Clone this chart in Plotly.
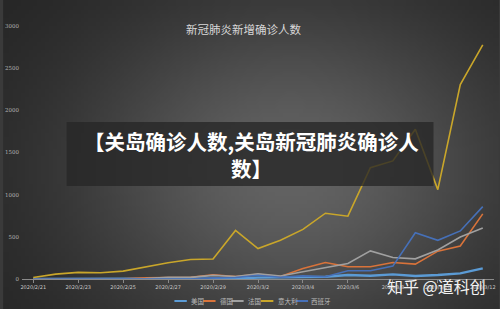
import base64, struct, zlib, math
import plotly.graph_objects as go

dates = ["2020/2/21", "2020/2/22", "2020/2/23", "2020/2/24", "2020/2/25", "2020/2/26", "2020/2/27",
         "2020/2/28", "2020/2/29", "2020/3/1", "2020/3/2", "2020/3/3", "2020/3/4", "2020/3/5",
         "2020/3/6", "2020/3/7", "2020/3/8", "2020/3/9", "2020/3/10", "2020/3/11", "2020/3/12"]
us = [0, 0, 0, 0, 1, 2, 3, 5, 8, 7, 16, 22, 27, 27, 47, 39, 55, 35, 47, 67, 126]
germany = [0, 0, 0, 0, 2, 14, 20, 20, 50, 30, 55, 30, 125, 196, 145, 145, 196, 176, 330, 392, 772]
france = [0, 0, 0, 0, 2, 4, 20, 19, 43, 30, 61, 35, 86, 137, 184, 333, 255, 239, 345, 498, 604]
italy = [17, 58, 78, 75, 93, 145, 192, 232, 238, 576, 361, 459, 588, 780, 745, 1320, 1400, 1776, 1060, 2305, 2775]
spain = [0, 0, 0, 0, 4, 3, 4, 0, 13, 17, 45, 20, 37, 27, 98, 98, 153, 549, 459, 570, 858]
tick_dates = dates[::2]
y_ticks = [0, 500, 1000, 1500, 2000, 2500, 3000]

series = [("美国", us, "#5b9bd5", 2.4), ("德国", germany, "#d9733a", 1.6), ("法国", france, "#a0a0a0", 1.6),
          ("意大利", italy, "#c9a62a", 1.6), ("西班牙", spain, "#4670b8", 1.6)]

W, H = 500, 309
ML, MR, MT, MB = 19, 5, 26, 30
PW, PH = W - ML - MR, H - MT - MB

def px(x):
    return (x - ML) / PW

def py(y):
    return (H - MB - y) / PH

# background radial gradient PNG
def make_png(w, h):
    rows = b""
    for j in range(h):
        row = b"\x00"
        for i in range(w):
            X = (i + 0.5) / w * W
            Y = (j + 0.5) / h * H
            dx = (X - 290) / 260
            dy = (Y - 170) / 200
            d2 = dx * dx + dy * dy
            v = int(35 + 64 * math.exp(-d2 * 1.4))
            row += bytes([v, v, v])
        rows += row
    def chunk(t, data):
        c = struct.pack(">I", len(data)) + t + data
        return c + struct.pack(">I", zlib.crc32(t + data) & 0xffffffff)
    png = b"\x89PNG\r\n\x1a\n" + chunk(b"IHDR", struct.pack(">IIBBBBB", w, h, 8, 2, 0, 0, 0))
    png += chunk(b"IDAT", zlib.compress(rows, 9)) + chunk(b"IEND", b"")
    return "data:image/png;base64," + base64.b64encode(png).decode()

fig = go.Figure()
for name, vals, color, width in series:
    fig.add_trace(go.Scatter(x=dates, y=vals, mode="lines", name=name,
                             line=dict(color=color, width=width), showlegend=False))

fig.add_layout_image(dict(source=make_png(125, 78), xref="paper", yref="paper",
                          x=px(0), y=py(0), sizex=W / PW, sizey=H / PH,
                          sizing="stretch", layer="below", xanchor="left", yanchor="top"))

def ann(text, x, y, size, color, xanchor="center"):
    return dict(text=text, xref="paper", yref="paper", x=px(x), y=py(y), xanchor=xanchor, yanchor="middle",
                showarrow=False, font=dict(family="Noto Sans CJK SC", size=size, color=color))

shapes = [dict(type="rect", xref="paper", yref="paper", x0=px(64), x1=px(434), y0=py(186), y1=py(122),
               fillcolor="rgba(38,38,38,0.78)", line=dict(width=0), layer="above")]
annotations = [
    ann("新冠肺炎新增确诊人数", 242, 29, 11.5, "#d8d8d8"),
    ann("<b>【关岛确诊人数,关岛新冠肺炎确诊人</b>", 250, 141, 20.5, "#ffffff"),
    ann("<b>数】</b>", 250, 168, 20.5, "#ffffff"),
    ann("知乎 @道科创", 437, 286, 16, "#f2f2f2"),
]
# custom compact legend
leg_items = [(172.7, 187.7), (201.7, 216.7), (230, 245), (260, 275), (295, 308)]
for (lx, tx), (name, vals, color, width) in zip(leg_items, series):
    shapes.append(dict(type="line", xref="paper", yref="paper", x0=px(lx), x1=px(lx + 12.5),
                       y0=py(301), y1=py(301), line=dict(color=color, width=2)))
    annotations.append(ann(name, tx, 301, 6.5, "#bbbbbb", xanchor="left"))

fig.update_layout(
    width=W, height=H, margin=dict(l=ML, r=MR, t=MT, b=MB),
    paper_bgcolor="#3a3a3a", plot_bgcolor="rgba(0,0,0,0)",
    shapes=shapes, annotations=annotations, showlegend=False,
    xaxis=dict(type="category", range=[-0.5, len(dates) - 0.5], tickvals=tick_dates, ticktext=tick_dates,
               showgrid=False, showline=True, linecolor="#8a8a8a", linewidth=1,
               ticks="outside", ticklen=3, tickcolor="#8a8a8a", zeroline=False,
               tickfont=dict(family="DejaVu Sans", size=5, color="#c8c8c8"), tickangle=0),
    yaxis=dict(range=[0, 3000], tickvals=y_ticks, showgrid=False, zeroline=False, showline=False,
               tickfont=dict(family="DejaVu Serif", size=5.5, color="#b0b0b0"), ticklabelstandoff=2),
)
fig.write_html("out.html")
